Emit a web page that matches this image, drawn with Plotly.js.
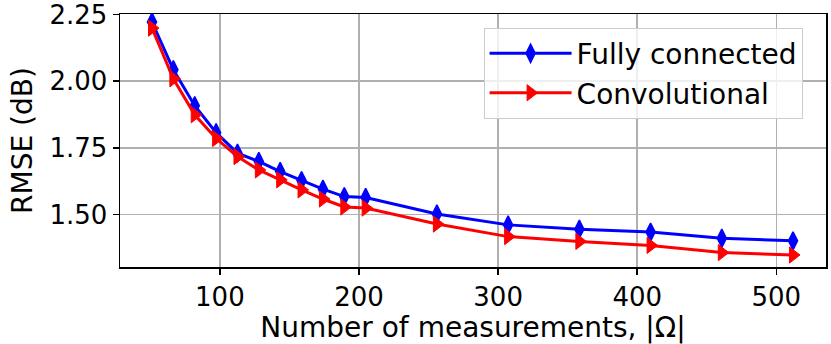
<!DOCTYPE html>
<html>
<head>
<meta charset="utf-8">
<script src="https://cdn.plot.ly/plotly-3.0.1.min.js"></script>
<style>
  html, body { margin: 0; padding: 0; background: #fff; }
  #chart { width: 831px; height: 344px; }
</style>
</head>
<body>
<div id="chart"></div>
<script>
// number of measurements |Omega|
const measurements = [51.2, 66.56, 81.92, 97.28, 112.64, 128, 143.36, 158.72, 174.08,
  189.44, 204.8, 256, 307.2, 358.4, 409.6, 460.8, 512];

// RMSE (dB)
const rmseFully = [2.222, 2.043, 1.908, 1.807, 1.730, 1.699, 1.661, 1.627, 1.595,
  1.567, 1.564, 1.502, 1.461, 1.445, 1.434, 1.411, 1.401];
const rmseConv = [2.199, 2.009, 1.874, 1.785, 1.717, 1.667, 1.630, 1.592, 1.558,
  1.528, 1.524, 1.464, 1.417, 1.399, 1.384, 1.357, 1.348];

const family = "DejaVu Sans, sans-serif";
const tickFont = { family, size: 26, color: "#000" };
const labelFont = { family, size: 28, color: "#000" };

const traces = [
  {
    type: "scatter",
    mode: "lines+markers",
    name: "Fully connected",
    x: measurements,
    y: rmseFully,
    line: { color: "blue", width: 3 },
    marker: { symbol: "diamond-tall", size: 13, color: "blue", line: { color: "blue", width: 1.5 } },
  },
  {
    type: "scatter",
    mode: "lines+markers",
    name: "Convolutional",
    x: measurements,
    y: rmseConv,
    line: { color: "red", width: 3 },
    marker: { symbol: "triangle-right", size: 14, color: "red", line: { color: "red", width: 1 } },
  },
];

const axisCommon = {
  showline: true,
  mirror: true,
  linecolor: "#000",
  linewidth: 1.5,
  ticks: "outside",
  ticklen: 6,
  tickwidth: 1.5,
  tickcolor: "#000",
  showgrid: true,
  gridcolor: "#b0b0b0",
  gridwidth: 1.5,
  zeroline: false,
  tickfont: tickFont,
  ticklabeloverflow: "allow",
};

const layout = {
  width: 831,
  height: 344,
  margin: { l: 120, r: 5, t: 14, b: 77 },
  paper_bgcolor: "#fff",
  plot_bgcolor: "#fff",
  font: labelFont,
  showlegend: true,
  legend: {
    x: 0.515,
    y: 0.946,
    xanchor: "left",
    yanchor: "top",
    itemwidth: 82,
    bgcolor: "rgba(255,255,255,0.8)",
    bordercolor: "#cccccc",
    borderwidth: 1,
    font: labelFont,
  },
  xaxis: {
    ...axisCommon,
    range: [28.2, 535.7],
    tickvals: [100, 200, 300, 400, 500],
    title: { text: "Number of measurements, |Ω|", font: labelFont, standoff: 6 },
  },
  yaxis: {
    ...axisCommon,
    range: [1.303, 2.252],
    tickvals: [1.5, 1.75, 2.0, 2.25],
    ticktext: ["1.50", "1.75", "2.00", "2.25"],
    title: { text: "RMSE (dB)", font: labelFont, standoff: 8 },
  },
};

Plotly.newPlot("chart", traces, layout, { displayModeBar: false, staticPlot: true });
</script>
</body>
</html>
